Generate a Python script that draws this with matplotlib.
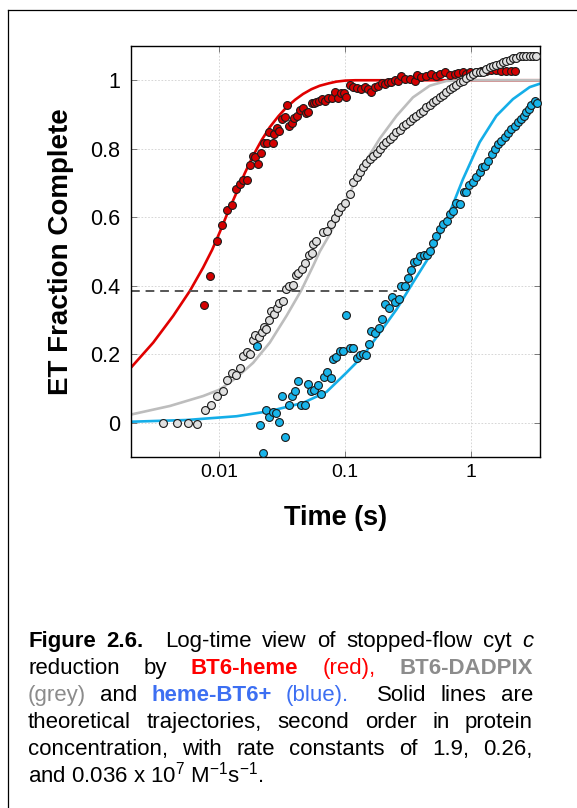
import matplotlib

matplotlib.use("Agg")
import matplotlib.pyplot as plt
from matplotlib.lines import Line2D

plt.rcParams["font.family"] = ["Liberation Sans", "DejaVu Sans"]
plt.rcParams["mathtext.fontset"] = "custom"
plt.rcParams["mathtext.rm"] = "Liberation Sans"
plt.rcParams["mathtext.it"] = "Liberation Sans:italic"
plt.rcParams["mathtext.bf"] = "Liberation Sans:bold"

# measured points (time in s, fraction complete)
red_t = [0.00757, 0.00844, 0.00953, 0.01056, 0.01157, 0.01254, 0.01349, 0.01459, 0.01549,
         0.01648, 0.0175, 0.0184, 0.0194, 0.0204, 0.0214, 0.0226, 0.0238, 0.0249, 0.0265,
         0.0271, 0.0285, 0.0299, 0.0316, 0.0332, 0.0342, 0.0359, 0.0379, 0.0393, 0.0415,
         0.0436, 0.0463, 0.0486, 0.0511, 0.0540, 0.0563, 0.0591, 0.0620, 0.0659, 0.0691,
         0.0731, 0.0778, 0.0826, 0.0868, 0.0917, 0.0973, 0.102, 0.1086, 0.1153, 0.124,
         0.134, 0.143, 0.152, 0.161, 0.171, 0.182, 0.194, 0.206, 0.218, 0.232, 0.247,
         0.262, 0.279, 0.296, 0.324, 0.356, 0.371, 0.402, 0.440, 0.482, 0.521, 0.561,
         0.614, 0.673, 0.738, 0.784, 0.858, 0.912, 0.970, 1.096, 1.20, 1.315, 1.44, 1.58,
         1.73, 1.89, 2.07, 2.20]
red_y = [0.343, 0.429, 0.531, 0.577, 0.622, 0.636, 0.682, 0.697, 0.708, 0.708, 0.753, 0.778,
         0.775, 0.755, 0.788, 0.816, 0.817, 0.850, 0.817, 0.844, 0.860, 0.851, 0.887, 0.892,
         0.929, 0.867, 0.876, 0.891, 0.896, 0.914, 0.918, 0.904, 0.907, 0.934, 0.934, 0.936,
         0.939, 0.944, 0.940, 0.947, 0.949, 0.965, 0.949, 0.962, 0.962, 0.950, 0.986, 0.980,
         0.977, 0.973, 0.980, 0.973, 0.967, 0.980, 0.984, 0.991, 0.989, 0.996, 0.996, 1.002,
         0.999, 1.013, 1.004, 1.004, 0.999, 1.016, 1.009, 1.012, 1.018, 1.013, 1.018, 1.025,
         1.016, 1.018, 1.021, 1.023, 1.018, 1.023, 1.023, 1.028, 1.026, 1.031, 1.031, 1.028,
         1.028, 1.028, 1.028]

grey_t = [0.00360, 0.00465, 0.00562, 0.00662, 0.00771, 0.00855, 0.00965, 0.01064, 0.01157,
          0.01267, 0.01356, 0.0146, 0.0155, 0.0166, 0.0175, 0.0186, 0.0193, 0.0206, 0.0217,
          0.0226, 0.0234, 0.0248, 0.0260, 0.0271, 0.0288, 0.0299, 0.0322, 0.0338, 0.0355,
          0.0382, 0.0406, 0.0423, 0.0450, 0.0478, 0.0516, 0.0540, 0.0550, 0.0591, 0.0667,
          0.0710, 0.0764, 0.0826, 0.0877, 0.0933, 0.0991, 0.1086, 0.115, 0.123, 0.130,
          0.138, 0.147, 0.156, 0.166, 0.177, 0.188, 0.1995, 0.212, 0.225, 0.239, 0.254,
          0.270, 0.287, 0.305, 0.324, 0.345, 0.366, 0.389, 0.414, 0.440, 0.467, 0.496,
          0.527, 0.561, 0.596, 0.633, 0.673, 0.715, 0.760, 0.807, 0.857, 0.912, 0.968,
          1.03, 1.094, 1.163, 1.236, 1.314, 1.396, 1.484, 1.577, 1.676, 1.782, 1.893,
          2.013, 2.139, 2.273, 2.416, 2.567, 2.729, 2.90, 3.08, 3.27]
grey_y = [0.000, -0.002, 0.000, -0.004, 0.037, 0.051, 0.078, 0.092, 0.125, 0.146, 0.138,
          0.161, 0.195, 0.208, 0.200, 0.242, 0.255, 0.249, 0.265, 0.281, 0.275, 0.299, 0.325,
          0.317, 0.336, 0.349, 0.356, 0.390, 0.399, 0.401, 0.431, 0.437, 0.448, 0.466, 0.489,
          0.497, 0.521, 0.531, 0.556, 0.560, 0.580, 0.599, 0.614, 0.629, 0.643, 0.668,
          0.704, 0.718, 0.731, 0.746, 0.758, 0.770, 0.780, 0.789, 0.799, 0.811, 0.819, 0.828,
          0.838, 0.848, 0.856, 0.865, 0.872, 0.882, 0.889, 0.897, 0.904, 0.911, 0.921, 0.928,
          0.936, 0.943, 0.950, 0.957, 0.965, 0.973, 0.980, 0.986, 0.994, 0.999, 1.006, 1.012,
          1.018, 1.023, 1.023, 1.025, 1.033, 1.038, 1.043, 1.045, 1.048, 1.053, 1.057, 1.060,
          1.064, 1.064, 1.070, 1.072, 1.072, 1.072, 1.072, 1.072]

blue_t = [0.0200, 0.0210, 0.0221, 0.0234, 0.0249, 0.0265, 0.0280, 0.0296, 0.0314, 0.0332,
          0.0355, 0.0375, 0.0398, 0.0423, 0.0444, 0.0478, 0.0507, 0.0533, 0.0566, 0.0603,
          0.0637, 0.0676, 0.0718, 0.0764, 0.080, 0.0851, 0.0904, 0.0961, 0.102, 0.1086,
          0.115, 0.123, 0.130, 0.138, 0.145, 0.155, 0.161, 0.171, 0.185, 0.196, 0.208, 0.221,
          0.235, 0.250, 0.265, 0.279, 0.300, 0.315, 0.335, 0.351, 0.371, 0.394, 0.419, 0.445,
          0.473, 0.496, 0.528, 0.561, 0.596, 0.641, 0.682, 0.715, 0.751, 0.818, 0.869, 0.912,
          0.957, 1.03, 1.096, 1.164, 1.222, 1.29, 1.355, 1.466, 1.53, 1.625, 1.73, 1.836,
          1.95, 2.075, 2.20, 2.34, 2.46, 2.60, 2.73, 2.86, 2.99, 3.18, 3.31]
blue_y = [0.224, -0.007, -0.088, 0.037, 0.018, 0.031, 0.029, 0.003, 0.078, -0.042, 0.053,
          0.078, 0.092, 0.121, 0.051, 0.051, 0.112, 0.092, 0.097, 0.110, 0.083, 0.133, 0.148,
          0.132, 0.185, 0.193, 0.209, 0.209, 0.316, 0.217, 0.219, 0.188, 0.197, 0.200, 0.199,
          0.231, 0.268, 0.263, 0.276, 0.304, 0.346, 0.334, 0.368, 0.354, 0.361, 0.398, 0.398,
          0.422, 0.445, 0.468, 0.473, 0.487, 0.489, 0.489, 0.502, 0.526, 0.546, 0.565, 0.580,
          0.589, 0.609, 0.619, 0.643, 0.638, 0.673, 0.673, 0.694, 0.702, 0.718, 0.731, 0.746,
          0.749, 0.765, 0.785, 0.799, 0.814, 0.823, 0.833, 0.846, 0.858, 0.865, 0.877, 0.887,
          0.895, 0.906, 0.916, 0.928, 0.940, 0.934]

# theoretical trajectories
red_fit_t = [0.002, 0.003, 0.00432, 0.00586, 0.00746, 0.0088, 0.0101, 0.0118, 0.01374,
             0.0159, 0.0186, 0.0217, 0.0252, 0.0295, 0.0342, 0.0400, 0.0463, 0.0540,
             0.0628, 0.0740, 0.0851, 0.1, 0.12, 3.5]
red_fit_y = [0.161, 0.234, 0.312, 0.385, 0.453, 0.505, 0.556, 0.617, 0.672, 0.727, 0.780,
             0.825, 0.863, 0.895, 0.921, 0.943, 0.960, 0.974, 0.984, 0.991, 0.996, 0.999,
             1.0, 1.0]

grey_fit_t = [0.002, 0.00407, 0.00746, 0.01013, 0.01374, 0.0186, 0.0252, 0.0342, 0.045,
              0.0556, 0.0628, 0.0753, 0.102, 0.138, 0.188, 0.255, 0.344, 0.467, 0.634,
              0.9, 3.5]
grey_fit_y = [0.024, 0.049, 0.078, 0.097, 0.132, 0.175, 0.234, 0.312, 0.388, 0.458, 0.50,
              0.55, 0.65, 0.75, 0.83, 0.896, 0.95, 0.984, 0.998, 1.0, 1.0]

blue_fit_t = [0.002, 0.00552, 0.01374, 0.0252, 0.0463, 0.071, 0.102, 0.138, 0.188, 0.255,
              0.344, 0.467, 0.634, 0.857, 1.163, 1.578, 2.137, 2.9, 3.5]
blue_fit_y = [0.003, 0.008, 0.019, 0.034, 0.058, 0.09, 0.146, 0.195, 0.263, 0.331, 0.409,
              0.487, 0.59, 0.711, 0.819, 0.896, 0.945, 0.980, 0.99]

half_level = 0.385
half_t = [0.002, 0.255]

y_ticks = [0, 0.2, 0.4, 0.6, 0.8, 1]
y_tick_labels = ["0", "0.2", "0.4", "0.6", "0.8", "1"]
x_ticks = [0.01, 0.1, 1]
x_tick_labels = ["0.01", "0.1", "1"]

RED = "#ff0000"
GREY = "#8c8c8c"
BLUE = "#3d6ff2"
caption_lines = [
    [("Figure", "k", "bold", "normal"), ("2.6.", "k", "bold", "normal"), ("", "k", "normal", "normal"),
     ("Log-time", "k", "normal", "normal"), ("view", "k", "normal", "normal"),
     ("of", "k", "normal", "normal"), ("stopped-flow", "k", "normal", "normal"),
     ("cyt", "k", "normal", "normal"), ("c", "k", "normal", "italic")],
    [("reduction", "k", "normal", "normal"), ("by", "k", "normal", "normal"),
     ("BT6-heme", RED, "bold", "normal"), ("(red),", RED, "normal", "normal"),
     ("BT6-DADPIX", GREY, "bold", "normal")],
    [("(grey)", GREY, "normal", "normal"), ("and", "k", "normal", "normal"),
     ("heme-BT6+", BLUE, "bold", "normal"), ("(blue).", BLUE, "normal", "normal"),
     ("", "k", "normal", "normal"), ("Solid", "k", "normal", "normal"),
     ("lines", "k", "normal", "normal"), ("are", "k", "normal", "normal")],
    [("theoretical", "k", "normal", "normal"), ("trajectories,", "k", "normal", "normal"),
     ("second", "k", "normal", "normal"), ("order", "k", "normal", "normal"),
     ("in", "k", "normal", "normal"), ("protein", "k", "normal", "normal")],
    [("concentration,", "k", "normal", "normal"), ("with", "k", "normal", "normal"),
     ("rate", "k", "normal", "normal"), ("constants", "k", "normal", "normal"),
     ("of", "k", "normal", "normal"), ("1.9,", "k", "normal", "normal"),
     ("0.26,", "k", "normal", "normal")],
]
caption_last = r"and 0.036 x 10$^{7}$ M$^{-1}$s$^{-1}$."


def main():
    W, H = 577, 808
    fig = plt.figure(figsize=(W / 100, H / 100), dpi=100)

    # page frame (only the left and top edges fall inside the image)
    fig.add_artist(Line2D([8 / W, 8 / W], [0, 1 - 10 / H], color="k", lw=0.9))
    fig.add_artist(Line2D([8 / W, 1], [1 - 10 / H, 1 - 10 / H], color="k", lw=0.9))

    left, right, top, bottom = 131, 540, 46, 457
    ax = fig.add_axes([left / W, 1 - bottom / H, (right - left) / W, (bottom - top) / H])

    ax.plot(red_fit_t, red_fit_y, color="#e00000", lw=1.9, zorder=2)
    ax.plot(grey_fit_t, grey_fit_y, color="#bdbdbd", lw=1.9, zorder=2)
    ax.plot(blue_fit_t, blue_fit_y, color="#14aee8", lw=1.9, zorder=2)
    ax.plot(half_t, [half_level, half_level], color="#555555", lw=1.4,
            linestyle=(0, (4.5, 3)), zorder=2)

    marker_style = dict(s=32, edgecolors="#1a1a1a", linewidths=0.8, zorder=3, clip_on=False)
    ax.scatter(red_t, red_y, facecolors="#d40000", **marker_style)
    ax.scatter(grey_t, grey_y, facecolors="#e0e0e0", **marker_style)
    ax.scatter(blue_t, blue_y, facecolors="#18b4ea", **marker_style)

    ax.set_xscale("log")
    ax.set_xlim(0.002, 3.5)
    ax.set_ylim(-0.1, 1.1)
    ax.set_xticks(x_ticks)
    ax.set_xticklabels(x_tick_labels)
    ax.set_yticks(y_ticks)
    ax.set_yticklabels(y_tick_labels)
    ax.minorticks_off()
    ax.tick_params(direction="in", length=4, width=0.6, color="#666666",
                   top=True, right=True)
    ax.tick_params(axis="y", pad=8, labelsize=15.5)
    ax.tick_params(axis="x", pad=5, labelsize=14)
    ax.grid(True, color="#d0d0d0", lw=0.6, linestyle=(0, (2, 2)))
    for spine in ax.spines.values():
        spine.set_linewidth(1.0)

    ax.set_ylabel("ET Fraction Complete", fontsize=20, fontweight="bold", va="center")
    ax.yaxis.set_label_coords((61 - left) / (right - left), 0.5)
    ax.set_xlabel("Time (s)", fontsize=19.5, fontweight="bold", va="center")
    ax.xaxis.set_label_coords(0.5, -(518 - bottom) / (bottom - top))

    # justified caption
    renderer = fig.canvas.get_renderer()
    cap_left, cap_right = 28, 533
    baseline = 647
    line_step = 27.1
    fsize = 16
    for i, words in enumerate(caption_lines):
        texts = []
        total = 0
        for word, color, weight, style in words:
            t = fig.text(0, 0, word, fontsize=fsize, color=color, fontweight=weight,
                         fontstyle=style, va="baseline", ha="left")
            w = t.get_window_extent(renderer).width if word else 0
            texts.append((t, w))
            total += w
        gap = (cap_right - cap_left - total) / (len(words) - 1)
        x = cap_left
        y = 1 - (baseline + i * line_step) / H
        for t, w in texts:
            t.set_position((x / W, y))
            x += w + gap
    fig.text(cap_left / W, 1 - (baseline + 5 * line_step) / H, caption_last,
             fontsize=fsize, va="baseline", ha="left")

    fig.savefig("out.png", dpi=100)


if __name__ == "__main__":
    main()
